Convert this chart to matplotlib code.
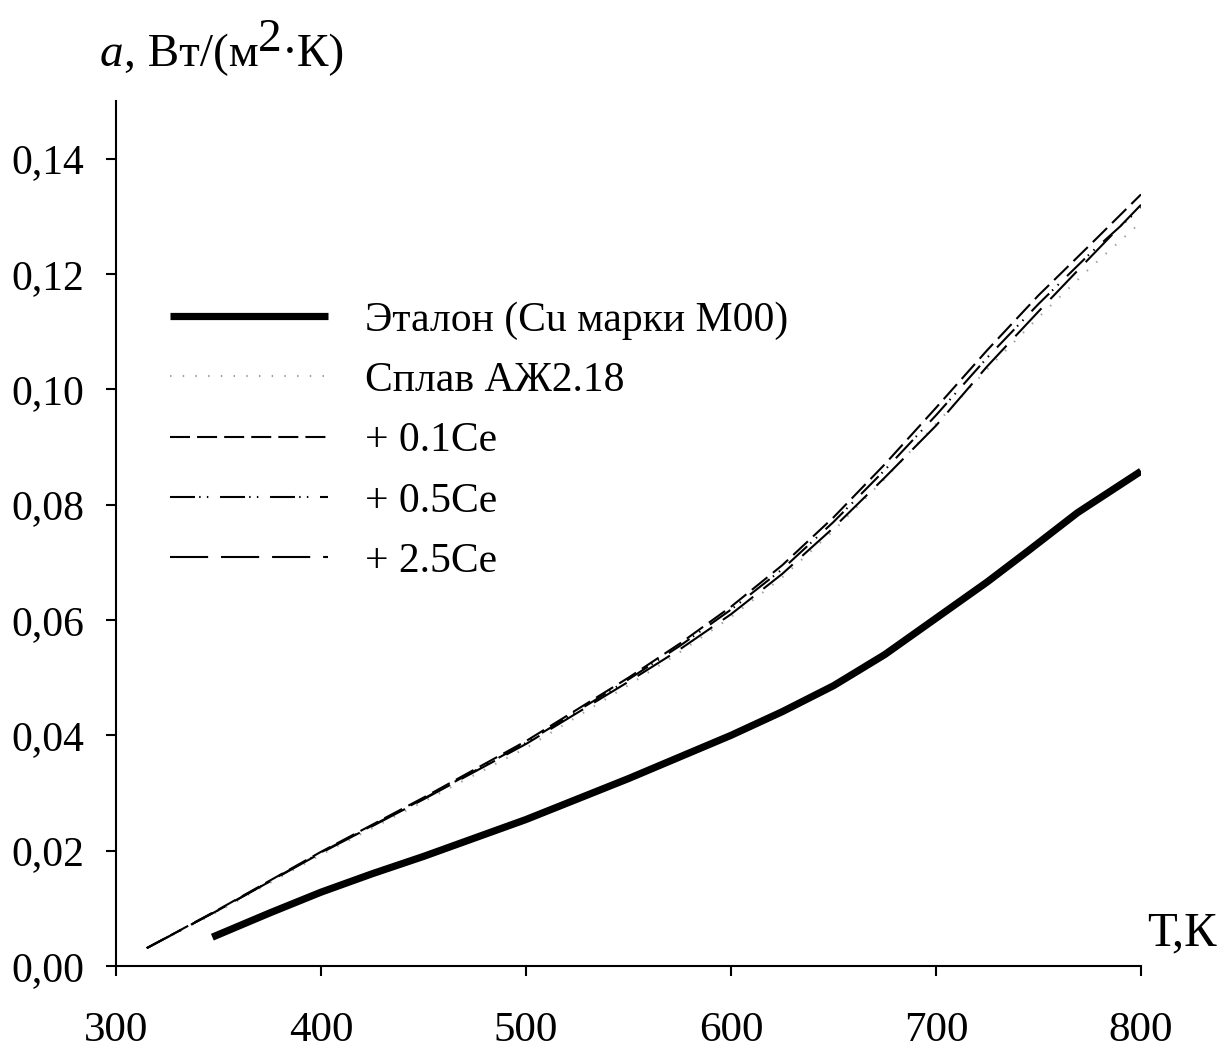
import matplotlib
matplotlib.use("Agg")
import matplotlib.pyplot as plt
from matplotlib.transforms import IdentityTransform

plt.rcParams["font.family"] = ["Liberation Serif", "DejaVu Serif"]

# --- data ---
T_ref = [347, 375, 400, 425, 450, 500, 550, 600, 625, 650, 675, 700, 725, 745, 769, 800]
a_ref = [0.0050, 0.0092, 0.0128, 0.0160, 0.0190, 0.0254, 0.0325, 0.0400,
         0.0441, 0.0486, 0.0540, 0.0603, 0.0666, 0.0720, 0.0786, 0.0858]

T_alloy = [315, 350, 400, 450, 500, 550, 575, 600, 625, 650, 675, 700, 725, 750, 775, 800]
a_base = [0.0031, 0.0095, 0.0193, 0.0285, 0.0378, 0.0487, 0.0544, 0.0605,
          0.0674, 0.0755, 0.0845, 0.0940, 0.1035, 0.1125, 0.1210, 0.1290]
a_01ce = [0.0031, 0.0098, 0.0198, 0.0292, 0.0390, 0.0500, 0.0559, 0.0623,
          0.0695, 0.0778, 0.0870, 0.0968, 0.1068, 0.1163, 0.1250, 0.1338]
a_05ce = [0.0031, 0.0097, 0.0197, 0.0290, 0.0387, 0.0497, 0.0555, 0.0618,
          0.0688, 0.0770, 0.0860, 0.0955, 0.1055, 0.1148, 0.1235, 0.1315]
a_25ce = [0.0031, 0.0097, 0.0196, 0.0289, 0.0385, 0.0493, 0.0549, 0.0610,
          0.0680, 0.0760, 0.0847, 0.0937, 0.1040, 0.1135, 0.1228, 0.1320]

labels = ["Эталон (Cu марки М00)", "Сплав АЖ2.18", "+ 0.1Ce", "+ 0.5Ce", "+ 2.5Ce"]
x_ticks = [300, 400, 500, 600, 700, 800]
y_ticks = [0.00, 0.02, 0.04, 0.06, 0.08, 0.10, 0.12, 0.14]

W, H = 1229, 1054
fig = plt.figure(figsize=(W / 100, H / 100), dpi=100)
ax = fig.add_axes([116 / W, 88 / H, (1141 - 116) / W, (966 - 101) / H])

ax.plot(T_ref, a_ref, color="black", lw=5.2, solid_capstyle="butt", label=labels[0])
ax.plot(T_alloy, a_base, color="#a0a0a0", lw=1.5, dashes=(0.7, 5.4), label=labels[1])
ax.plot(T_alloy, a_01ce, color="black", lw=1.5, dashes=(9.6, 3.4), label=labels[2])
ax.plot(T_alloy, a_05ce, color="black", lw=1.5,
        dashes=(12, 2, 0.7, 3, 0.7, 5.6), label=labels[3])
ax.plot(T_alloy, a_25ce, color="black", lw=1.5, dashes=(18.3, 6.2), label=labels[4])

ax.set_xlim(300, 800)
ax.set_ylim(0, 0.15)
ax.set_xticks(x_ticks)
ax.set_yticks(y_ticks)
ax.set_yticklabels([f"{v:.2f}".replace(".", ",") for v in y_ticks])
ax.tick_params(axis="both", direction="out", length=7, width=1.5, labelsize=30)
ax.tick_params(axis="x", pad=26, labelsize=31)
ax.tick_params(axis="y", pad=16)
for side in ("top", "right"):
    ax.spines[side].set_visible(False)
for side in ("left", "bottom"):
    ax.spines[side].set_linewidth(1.5)

leg = ax.legend(loc="upper left", bbox_to_anchor=(170 / W, 1 - 301 / H),
                bbox_transform=fig.transFigure, frameon=False, fontsize=30,
                handlelength=3.79, handletextpad=0.89, labelspacing=0.525,
                borderpad=0, borderaxespad=0)

# axis titles
fig.text(1147 / W, 1 - 945 / H, "Т,К", fontsize=35, ha="left", va="baseline")

# y label built from pieces so the "2" is full size and raised
fig.canvas.draw()
r = fig.canvas.get_renderer()
x0, base = 100, H - 66
parts = [("a", 0, "italic"), (", Вт/(м", 0, "normal"), ("2", 15, "normal"), ("·К)", 0, "normal")]
for s, dy, style in parts:
    t = fig.text(x0, base + dy, s, fontsize=34, style=style, ha="left", va="baseline",
                 transform=IdentityTransform())
    x0 = t.get_window_extent(r).x1

fig.savefig("out.png", dpi=100)
